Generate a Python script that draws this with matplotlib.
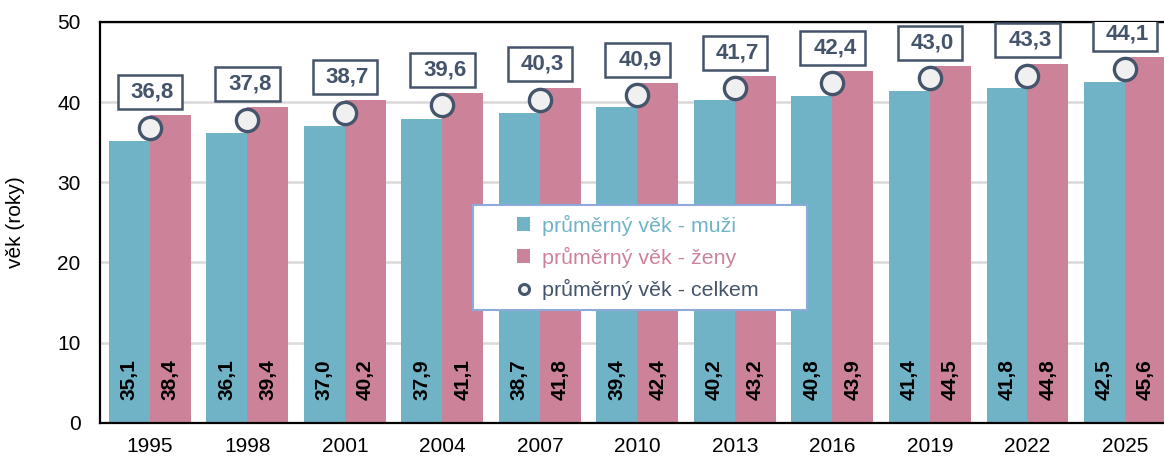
import matplotlib.pyplot as plt
from matplotlib.patches import Rectangle
import numpy as np

plt.rcParams['font.family'] = ['Liberation Sans', 'DejaVu Sans']

roky = ['1995', '1998', '2001', '2004', '2007', '2010', '2013', '2016', '2019', '2022', '2025']
muzi = [35.1, 36.1, 37.0, 37.9, 38.7, 39.4, 40.2, 40.8, 41.4, 41.8, 42.5]
zeny = [38.4, 39.4, 40.2, 41.1, 41.8, 42.4, 43.2, 43.9, 44.5, 44.8, 45.6]
celkem = [36.8, 37.8, 38.7, 39.6, 40.3, 40.9, 41.7, 42.4, 43.0, 43.3, 44.1]

c_muzi = '#70b3c7'
c_zeny = '#cc8399'
c_celk = '#44546a'

fig, ax = plt.subplots(figsize=(11.64, 4.57), dpi=100)
fig.subplots_adjust(left=0.086, right=1.0, top=0.952, bottom=0.075)

x = np.arange(len(roky))
w = 0.42
b1 = ax.bar(x - w / 2, muzi, w, color=c_muzi, label='průměrný věk - muži', zorder=2)
b2 = ax.bar(x + w / 2, zeny, w, color=c_zeny, label='průměrný věk - ženy', zorder=2)
l1, = ax.plot(x, celkem, 'o', ms=16, mfc='#f0f0f0', mec=c_celk, mew=2.4, ls='none',
              label='průměrný věk - celkem', zorder=4)

for i in range(len(roky)):
    ax.text(x[i] - w / 2, 2.8, f'{muzi[i]:.1f}'.replace('.', ','), rotation=90,
            ha='center', va='bottom', fontsize=15, fontweight='bold', zorder=3)
    ax.text(x[i] + w / 2, 2.8, f'{zeny[i]:.1f}'.replace('.', ','), rotation=90,
            ha='center', va='bottom', fontsize=15, fontweight='bold', zorder=3)
    # rámeček s hodnotou celkem
    yb = celkem[i] + 4.4
    ax.add_patch(Rectangle((x[i] - 0.33, yb - 2.12), 0.66, 4.24, fc='white', ec=c_celk,
                           lw=1.8, zorder=5))
    ax.text(x[i] + 0.025, yb, f'{celkem[i]:.1f}'.replace('.', ','),
            ha='center', va='center', fontsize=16, fontweight='bold', color=c_celk, zorder=6)

ax.set_xlim(-0.51, 10.4)
ax.set_ylim(0, 50)
ax.set_yticks([0, 10, 20, 30, 40, 50])
ax.set_xticks(x)
ax.set_xticklabels(roky)
ax.tick_params(axis='y', labelsize=15, length=0, pad=14)
ax.tick_params(axis='x', labelsize=15, length=0, pad=10)
ax.set_ylabel('věk (roky)', fontsize=15)
ax.yaxis.set_label_coords(-0.071, 0.5)
ax.yaxis.grid(True, color='#d9d9d9', lw=1.8, zorder=0)
ax.set_axisbelow(True)
for s in ['left', 'top', 'bottom']:
    ax.spines[s].set_color('black')
    ax.spines[s].set_linewidth(1.6)
ax.spines['right'].set_visible(False)

# legenda bez rámu + ručně kreslený rám
ax.add_patch(Rectangle((0.3506, 0.282), 0.3139, 0.2616, transform=ax.transAxes,
                       fc='white', ec='#8eaadb', lw=1.5, zorder=7))
leg = ax.legend(handles=[b1, b2, l1], loc='center left', bbox_to_anchor=(0.392, 0.413),
                fontsize=15.4, frameon=False, handlelength=0.6, handleheight=0.6,
                handletextpad=0.55, borderpad=0, labelspacing=0.52, borderaxespad=0,
                markerscale=0.45)
leg.set_zorder(8)
for t, c in zip(leg.get_texts(), [c_muzi, c_zeny, c_celk]):
    t.set_color(c)
leg.legend_handles[2].set_markeredgewidth(2.2)

plt.savefig('out.png', dpi=100)
